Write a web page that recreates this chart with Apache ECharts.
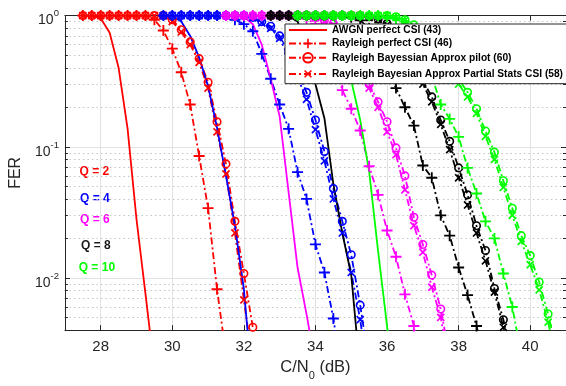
<!DOCTYPE html>
<html><head><meta charset="utf-8">
<script src="https://cdn.jsdelivr.net/npm/echarts@6/dist/echarts.min.js"></script>
<style>html,body{margin:0;padding:0;background:#fff}#c{width:566px;height:386px}</style>
</head><body><div id="c"></div><script>
// ---- tick labels / grid values ----
const xTicks = [28, 30, 32, 34, 36, 38, 40];
const yMinorTicks = [0.005,0.006,0.007,0.008,0.009,0.02,0.03,0.04,0.05,0.06,0.07,0.08,0.09,0.2,0.3,0.4,0.5,0.6,0.7,0.8,0.9];
const legendNames = ['AWGN perfect CSI (43)','Rayleigh perfect CSI (46)','Rayleigh Bayessian Approx pilot (60)','Rayleigh Bayesian Approx Partial Stats CSI (58)'];
const qLabels = ['Q = 2','Q = 4','Q = 6','Q = 8','Q = 10'];
const qColors = ['#ff0000','#0000ff','#ff00ff','#000000','#00ff00'];

// ---- Q = 2 ----
const snrQ2 = [27.5,27.75,28,28.25,28.5,28.75,29,29.25,29.5,29.75,30,30.25,30.5,30.75,31,31.25,31.5,31.75,32,32.25];
const awgnQ2 = [1,0.995,0.955,0.74,0.4,0.138,0.028,0.0076,0.002];
const plusQ2 = [1,1,1,1,1,1,1,1,0.93,0.77,0.56,0.37,0.21,0.085,0.034,0.0082,0.0026];
const circQ2 = [1,1,1,1,1,1,1,1,1,1,0.93,0.78,0.63,0.47,0.31,0.155,0.074,0.027,0.0108,0.0042];
const crossQ2 = [1,1,1,1,1,1,1,1,1,1,0.9,0.75,0.6,0.44,0.28,0.13,0.062,0.022,0.0068,0.0022];
// ---- Q = 4 ----
const snrQ4 = [29.75,30,30.25,30.5,30.75,31,31.25,31.5,31.75,32,32.25,32.5,32.75,33,33.25,33.5,33.75,34,34.25,34.5,34.75,35,35.25,35.5];
const awgnQ4 = [1,0.995,0.9,0.7,0.48,0.29,0.14,0.06,0.025,0.0082,0.0014];
const plusQ4 = [1,1,1,1,1,1,1,1,0.93,0.86,0.76,0.51,0.33,0.21,0.137,0.064,0.04,0.018,0.011,0.0049,0.0018];
const circQ4 = [1,1,1,1,1,1,1,1,1,1,0.97,0.9,0.83,0.7,0.52,0.38,0.26,0.16,0.092,0.048,0.027,0.015,0.0062,0.0022];
const crossQ4 = [1,1,1,1,1,1,1,1,1,1,0.96,0.88,0.8,0.67,0.48,0.34,0.23,0.135,0.078,0.04,0.022,0.011,0.0048,0.0016];
// ---- Q = 6 ----
const snrQ6 = [31.5,31.75,32,32.25,32.5,32.75,33,33.25,33.5,33.75,34,34.25,34.5,34.75,35,35.25,35.5,35.75,36,36.25,36.5,36.75,37,37.25,37.5,37.75];
const awgnQ6 = [1,1,0.98,0.86,0.6,0.33,0.17,0.045,0.012,0.0053,0.0022];
const plusQ6 = [1,1,1,1,1,1,1,1,1,0.95,0.86,0.74,0.48,0.27,0.195,0.133,0.071,0.043,0.023,0.0145,0.0075,0.0043,0.002];
const circQ6 = [1,1,1,1,1,1,1,1,1,1,0.97,0.92,0.87,0.78,0.62,0.44,0.3,0.22,0.155,0.098,0.06,0.029,0.018,0.0105,0.0058,0.0025];
const crossQ6 = [1,1,1,1,1,1,1,1,1,1,0.96,0.9,0.84,0.74,0.58,0.41,0.28,0.2,0.13,0.087,0.047,0.025,0.0157,0.0085,0.005,0.002];
// ---- Q = 8 ----
const snrQ8 = [32.75,33,33.25,33.5,33.75,34,34.25,34.5,34.75,35,35.25,35.5,35.75,36,36.25,36.5,36.75,37,37.25,37.5,37.75,38,38.25,38.5,38.75,39,39.25,39.5];
const awgnQ8 = [1,1,0.99,0.9,0.62,0.3,0.165,0.052,0.022,0.0105,0.0019];
const plusQ8 = [1,1,1,1,1,1,1,1,1,0.97,0.92,0.8,0.6,0.4,0.28,0.2,0.145,0.072,0.058,0.03,0.021,0.012,0.0074,0.0043,0.0022];
const circQ8 = [1,1,1,1,1,1,1,1,1,1,1,0.98,0.94,0.87,0.75,0.6,0.45,0.32,0.24,0.16,0.11,0.069,0.043,0.025,0.0162,0.0083,0.0048,0.0025];
const crossQ8 = [1,1,1,1,1,1,1,1,1,1,1,0.97,0.93,0.85,0.72,0.57,0.42,0.3,0.22,0.148,0.095,0.058,0.036,0.022,0.0135,0.0078,0.0042,0.002];
// ---- Q = 10 ----
const snrQ10 = [33.5,33.75,34,34.25,34.5,34.75,35,35.25,35.5,35.75,36,36.25,36.5,36.75,37,37.25,37.5,37.75,38,38.25,38.5,38.75,39,39.25,39.5,39.75,40,40.25,40.5,40.75];
const awgnQ10 = [1,1,1,0.99,0.95,0.7,0.32,0.16,0.065,0.016,0.0043,0.001];
const plusQ10 = [1,1,1,1,1,1,1,1,1,1,0.98,0.95,0.9,0.75,0.55,0.35,0.21,0.163,0.119,0.069,0.044,0.027,0.02,0.0108,0.006,0.0026];
const circQ10 = [1,1,1,1,1,1,1,1,1,1,1,0.98,0.93,0.85,0.78,0.7,0.58,0.45,0.33,0.26,0.195,0.132,0.091,0.055,0.034,0.021,0.0148,0.0093,0.0053,0.0027];
const crossQ10 = [1,1,1,1,1,1,1,1,1,1,1,0.97,0.92,0.83,0.75,0.67,0.55,0.42,0.3,0.24,0.18,0.12,0.08,0.049,0.03,0.019,0.0126,0.0081,0.0046,0.0022];

const groups = [
  {snr: snrQ2, sets: [awgnQ2, plusQ2, circQ2, crossQ2]},
  {snr: snrQ4, sets: [awgnQ4, plusQ4, circQ4, crossQ4]},
  {snr: snrQ6, sets: [awgnQ6, plusQ6, circQ6, crossQ6]},
  {snr: snrQ8, sets: [awgnQ8, plusQ8, circQ8, crossQ8]},
  {snr: snrQ10, sets: [awgnQ10, plusQ10, circQ10, crossQ10]}
];

const FONT = "'Liberation Sans', Arial, Helvetica, sans-serif";
const AX = '#262626';
const DASHDOT = [7, 3, 2, 3];
const PLUS = 'path://M5,0h2v5h5v2h-5v5h-2v-5h-5v-2h5z';

const series = [];
groups.forEach((g, qi) => {
  const color = qColors[qi];
  g.sets.forEach((vals, k) => {
    const s = {
      name: legendNames[k], type: 'line', xAxisIndex: 0, yAxisIndex: 0,
      data: vals.map((v, i) => [g.snr[i], v]),
      animation: false, clip: true, silent: true, showSymbol: true,
      emphasis: {disabled: true},
      lineStyle: {color: color, width: 1.8, type: k === 0 ? 'solid' : DASHDOT}
    };
    if (k === 0) { s.symbol = 'none'; s.itemStyle = {color: color}; }
    else if (k === 1) { s.symbol = PLUS; s.symbolSize = 11; s.itemStyle = {color: color}; }
    else if (k === 2) { s.symbol = 'circle'; s.symbolSize = 7.5; s.itemStyle = {color: 'rgba(255,255,255,0)', borderColor: color, borderWidth: 1.6}; }
    else { s.symbol = PLUS; s.symbolRotate = 45; s.symbolSize = 10; s.itemStyle = {color: color}; }
    series.push(s);
  });
});

const yFmt = v => '{b|10}{s|' + Math.round(Math.log10(v)) + '}';
const logBase = {type: 'log', logBase: 10, min: 0.004, max: 1};

const option = {
  backgroundColor: '#fff',
  animation: false,
  grid: {left: 63.3, right: -2.7, top: 15.6, bottom: 52.6, containLabel: false},
  legend: {
    data: [
      {name: legendNames[0], itemStyle: {color: 'rgba(0,0,0,0)', borderWidth: 0}},
      legendNames[1], legendNames[2], legendNames[3]
    ],
    orient: 'vertical', left: 285, top: 24,
    itemWidth: 38, itemHeight: 12, itemGap: 3.5, padding: [1, 4, 3, 3],
    backgroundColor: '#fff', borderColor: AX, borderWidth: 1, borderRadius: 0,
    selectedMode: false, z: 10,
    textStyle: {fontSize: 10.2, fontWeight: 'bold', color: '#000', fontFamily: FONT}
  },
  xAxis: [
    {type: 'value', min: 27, max: 41, position: 'bottom',
     axisLine: {show: true, onZero: false, lineStyle: {color: AX, width: 1}},
     axisTick: {show: true, inside: true, length: 5, customValues: xTicks, lineStyle: {color: AX}},
     axisLabel: {customValues: xTicks, fontSize: 15, color: AX, fontFamily: FONT, margin: 9},
     splitLine: {show: true, lineStyle: {color: '#e2e2e2', width: 1}},
     name: '{m|C/N}{sub|0}{m| (dB)}', nameLocation: 'middle', nameGap: 27,
     nameTextStyle: {color: AX, fontFamily: FONT, rich: {
       m: {fontSize: 16.5, color: AX, fontFamily: FONT, padding: [0, 0, 5, 0], verticalAlign: 'bottom'},
       sub: {fontSize: 11, color: AX, fontFamily: FONT, verticalAlign: 'bottom'}}}
    },
    {type: 'value', min: 27, max: 41, position: 'top',
     axisLine: {show: true, onZero: false, lineStyle: {color: AX, width: 1}},
     axisTick: {show: true, inside: true, length: 5, customValues: xTicks, lineStyle: {color: AX}},
     axisLabel: {show: false}, splitLine: {show: false}}
  ],
  yAxis: [
    Object.assign({}, logBase, {position: 'left',
     axisLine: {show: true, onZero: false, lineStyle: {color: AX, width: 1}},
     axisTick: {show: true, inside: true, length: 5, lineStyle: {color: AX}},
     axisLabel: {formatter: yFmt, showMinLabel: false, margin: 6, rich: {
       b: {fontSize: 14, color: AX, fontFamily: FONT, verticalAlign: 'bottom', padding: [10, 0, 0, 0]},
       s: {fontSize: 9.5, color: AX, fontFamily: FONT, verticalAlign: 'bottom', padding: [0, 0, 8.75, 0]}}},
     splitLine: {show: true, lineStyle: {color: '#e2e2e2', width: 1}},
     name: 'FER', nameLocation: 'middle', nameGap: 38, nameRotate: 90,
     nameTextStyle: {fontSize: 16, color: AX, fontFamily: FONT}}),
    Object.assign({}, logBase, {position: 'left',
     axisLine: {show: false},
     axisTick: {show: true, inside: true, length: 3, customValues: yMinorTicks, lineStyle: {color: AX}},
     axisLabel: {show: false},
     splitLine: {show: true, lineStyle: {color: '#c4c4c4', width: 1, type: [1.5, 3]}}}),
    Object.assign({}, logBase, {position: 'right',
     axisLine: {show: true, onZero: false, lineStyle: {color: AX, width: 1}},
     axisTick: {show: true, inside: true, length: 5, lineStyle: {color: AX}},
     axisLabel: {show: false}, splitLine: {show: false}}),
    Object.assign({}, logBase, {position: 'right',
     axisLine: {show: false},
     axisTick: {show: true, inside: true, length: 3, customValues: yMinorTicks, lineStyle: {color: AX}},
     axisLabel: {show: false}, splitLine: {show: false}})
  ],
  graphic: [
    {type: 'text', left: 79.5, top: 165.5, style: {text: qLabels[0], fill: qColors[0], font: 'bold 12px ' + FONT}},
    {type: 'text', left: 80, top: 192.5, style: {text: qLabels[1], fill: qColors[1], font: 'bold 12px ' + FONT}},
    {type: 'text', left: 80, top: 213.5, style: {text: qLabels[2], fill: qColors[2], font: 'bold 12px ' + FONT}},
    {type: 'text', left: 81, top: 239.5, style: {text: qLabels[3], fill: '#1a1a1a', font: 'bold 12px ' + FONT}},
    {type: 'text', left: 78.7, top: 261.5, style: {text: qLabels[4], fill: qColors[4], font: 'bold 12px ' + FONT}}
  ],
  series: series
};
const chart = echarts.init(document.getElementById('c'), null, {renderer: 'canvas'});
chart.setOption(option);
</script></body></html>
